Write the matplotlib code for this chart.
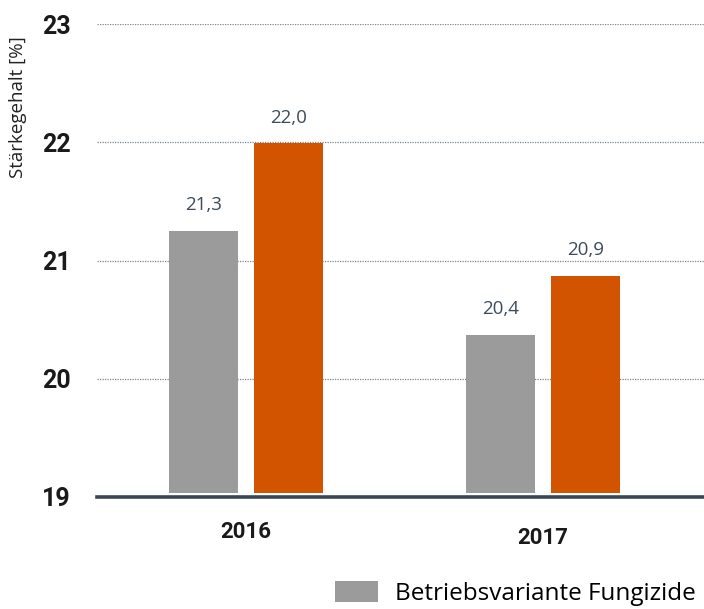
import matplotlib
matplotlib.use("Agg")
import matplotlib.pyplot as plt
from matplotlib.transforms import ScaledTranslation
import numpy as np

categories = ["2016", "2017"]
series_names = ["Betriebsvariante Fungizide", "Variante"]
betrieb = [21.25, 20.37]
variante = [21.99, 20.87]
betrieb_labels = ["21,3", "20,4"]
variante_labels = ["22,0", "20,9"]
yticks = [19, 20, 21, 22, 23]

W, H = 704, 609
fig = plt.figure(figsize=(W / 100, H / 100), dpi=100)
ax = fig.add_axes([97 / W, 1 - 497 / H, (704 - 97) / W, (497 - 24) / H])

x = np.arange(len(categories))
bw = 0.232
off = 0.142
gray = "#9b9b9b"
orange = "#d35400"
b1 = ax.bar(x - off, np.array(betrieb) - 19.035, bw, bottom=19.035, color=gray, label=series_names[0], zorder=3)
b2 = ax.bar(x + off, np.array(variante) - 19.035, bw, bottom=19.035, color=orange, label=series_names[1], zorder=3)

lab_color = "#3d4b5a"
for xi, v, l in zip(x - off, betrieb, betrieb_labels):
    ax.text(xi, v + 0.14, l, ha="center", va="bottom", fontsize=13.5, color=lab_color, family="Open Sans")
for xi, v, l in zip(x + off, variante, variante_labels):
    ax.text(xi, v + 0.14, l, ha="center", va="bottom", fontsize=13.5, color=lab_color, family="Open Sans")

ax.set_ylim(19, 23)
ax.set_xlim(-0.502, 1.542)
ax.set_yticks(yticks)
ax.set_yticklabels([str(t) for t in yticks], fontsize=18, fontweight="bold", family="Roboto")
ax.tick_params(axis="y", length=0, pad=19)
ax.set_xticks(x)
ax.set_xticklabels(categories, fontsize=16, fontweight="bold", family="Roboto")
ax.tick_params(axis="x", length=0, pad=17)
for t in ax.get_xticklabels():
    t.set_color("#1a1a1a")
for t in ax.get_yticklabels():
    t.set_color("#1a1a1a")
lab17 = ax.get_xticklabels()[1]
lab17.set_transform(lab17.get_transform() + ScaledTranslation(0, -6 / 100, fig.dpi_scale_trans))

ax.grid(axis="y", linestyle=(0, (1, 1)), color="#7a8590", linewidth=0.9, zorder=0)
for s in ["top", "right", "left"]:
    ax.spines[s].set_visible(False)
ax.spines["bottom"].set_color("#3a4753")
ax.spines["bottom"].set_linewidth(2.6)
ax.spines["bottom"].set_zorder(4)

fig.text(18 / W, 1 - 107 / H, "Stärkegehalt [%]", rotation=90, ha="center", va="center",
         fontsize=13.5, family="Open Sans", color="#222222")

fig.legend(handles=[b1], labels=[series_names[0]], loc="upper left",
           bbox_to_anchor=(316 / W, 1 - 562 / H), frameon=False,
           prop={"family": "Open Sans", "size": 17.5},
           handlelength=1.77, handleheight=0.95, handletextpad=0.7, borderpad=0.3)

fig.savefig("out.png", dpi=100)
